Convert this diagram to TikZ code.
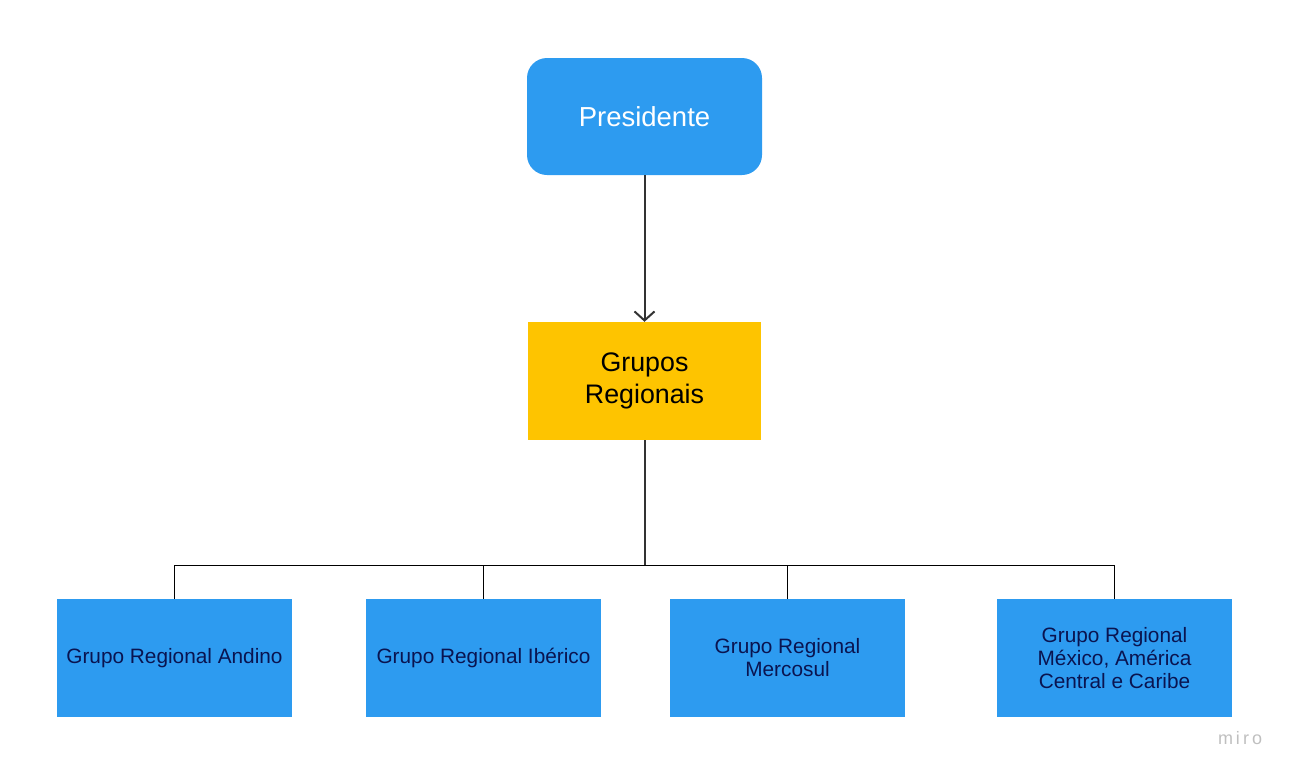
\documentclass[tikz,border=0pt]{standalone}
\usepackage{fontspec}
\setmainfont{Liberation Sans}
\usetikzlibrary{arrows.meta}
\definecolor{boxblue}{HTML}{2D9BF0}
\definecolor{boxyellow}{HTML}{FEC400}
\definecolor{navy}{HTML}{0A1450}
\definecolor{linegray}{HTML}{333333}
\begin{document}
\begin{tikzpicture}[x=1pt,y=-1pt,
  topbox/.style={fill=boxblue,draw=none,rounded corners=20pt,minimum width=235pt,minimum height=117pt,text=white,font=\fontsize{27.5}{31}\selectfont,inner sep=0pt},
  midbox/.style={fill=boxyellow,draw=none,minimum width=233pt,minimum height=118pt,text=black,font=\fontsize{26.8}{32}\selectfont,align=center,inner sep=0pt},
  leafbox/.style={fill=boxblue,draw=none,minimum width=235pt,minimum height=118pt,text=navy,font=\fontsize{20.8}{23}\selectfont,align=center,inner sep=0pt},
  thickline/.style={draw=linegray,line width=2pt},
  thinline/.style={draw=black,line width=1pt}]
\useasboundingbox (0,0) rectangle (1290,774);
\node[topbox] (pres) at (644.5,116.5) {Presidente};
\node[midbox] (gr) at (644.5,381) {Grupos\\Regionais};
\node[leafbox] (a) at (174.5,658) {Grupo Regional Andino};
\node[leafbox] (b) at (483.5,658) {Grupo Regional Ibérico};
\node[leafbox] (c) at (787.5,658) {Grupo Regional\\Mercosul};
\node[leafbox] (d) at (1114.5,658) {Grupo Regional\\México, América\\Central e Caribe};
\coordinate (bus) at (644.5,565);
\draw[thickline,-{Straight Barb[length=9pt,width=20pt]}] (pres.south) -- (gr.north);
\draw[thickline] (gr.south) -- (bus);
\draw[thinline] (bus) -| (a.north);
\draw[thinline] (bus) -| (b.north);
\draw[thinline] (bus) -| (c.north);
\draw[thinline] (bus) -| (d.north);
\node[text=black!25,font=\fontsize{18}{20}\selectfont] (miro) at (1240,738) {m\,i\,r\,o};
\end{tikzpicture}
\end{document}
